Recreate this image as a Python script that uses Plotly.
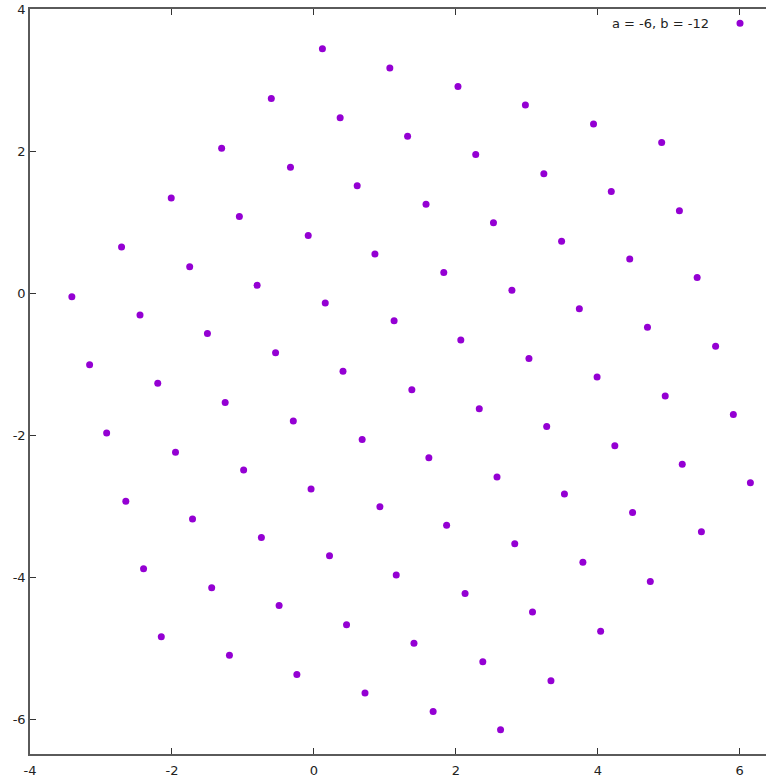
import plotly.graph_objects as go

# lattice points, column by column (top to bottom)
x_vals = [
    -3.41, -3.16, -2.92, -2.65, -2.40, -2.15,
    -2.71, -2.45, -2.20, -1.95, -1.71, -1.44, -1.19,
    -2.01, -1.75, -1.50, -1.25, -0.99, -0.74, -0.49, -0.24,
    -1.30, -1.05, -0.80, -0.54, -0.29, -0.04, 0.22, 0.46, 0.72,
    -0.60, -0.33, -0.08, 0.16, 0.41, 0.68, 0.93, 1.16, 1.41, 1.68,
    0.12, 0.37, 0.61, 0.86, 1.13, 1.38, 1.62, 1.87, 2.13, 2.38, 2.63,
    1.07, 1.32, 1.58, 1.83, 2.07, 2.33, 2.58, 2.83, 3.08, 3.34,
    2.03, 2.28, 2.53, 2.79, 3.03, 3.28, 3.53, 3.79, 4.04,
    2.98, 3.24, 3.49, 3.74, 3.99, 4.24, 4.49, 4.74,
    3.94, 4.19, 4.45, 4.70, 4.95, 5.19, 5.46,
    4.90, 5.15, 5.40, 5.66, 5.91, 6.15,
]
y_vals = [
    -0.05, -1.01, -1.97, -2.93, -3.88, -4.84,
    0.65, -0.31, -1.27, -2.24, -3.18, -4.15, -5.10,
    1.34, 0.37, -0.57, -1.54, -2.49, -3.44, -4.40, -5.37,
    2.04, 1.08, 0.11, -0.84, -1.80, -2.76, -3.70, -4.67, -5.63,
    2.74, 1.77, 0.81, -0.14, -1.10, -2.06, -3.01, -3.97, -4.93, -5.89,
    3.44, 2.47, 1.51, 0.55, -0.39, -1.36, -2.32, -3.27, -4.23, -5.19, -6.15,
    3.17, 2.21, 1.25, 0.29, -0.66, -1.63, -2.59, -3.53, -4.49, -5.46,
    2.91, 1.95, 0.99, 0.04, -0.92, -1.88, -2.83, -3.79, -4.76,
    2.65, 1.68, 0.73, -0.22, -1.18, -2.15, -3.09, -4.06,
    2.38, 1.43, 0.48, -0.48, -1.45, -2.41, -3.36,
    2.12, 1.16, 0.22, -0.75, -1.71, -2.67,
]
label = "a = -6, b = -12"
tick_vals = [-6, -4, -2, 0, 2, 4, 6]
tick_text = ["-6", "-4", "-2", "0", "2", "4", "6"]

purple = "#9400d3"
font = dict(family="DejaVu Sans", size=13, color="#222222")

fig = go.Figure()
fig.add_trace(go.Scatter(
    x=x_vals, y=y_vals, mode="markers", name=label,
    marker=dict(color=purple, size=7, line=dict(width=0)),
    showlegend=False,
))

# gnuplot-style key: text then sample symbol at top right
fig.add_annotation(
    text=label, xref="paper", yref="paper", x=0.925, y=0.981,
    xanchor="right", yanchor="middle", showarrow=False, font=font,
)
fig.add_shape(
    type="circle", xref="paper", yref="paper",
    x0=0.9647 - 0.0048, x1=0.9647 + 0.0048,
    y0=0.981 - 0.0047, y1=0.981 + 0.0047,
    fillcolor=purple, line=dict(width=0),
)

axis_common = dict(
    showgrid=False, zeroline=False, showline=True, automargin=False,
    linecolor="#5a5a5a", linewidth=1.5,
    ticks="inside", ticklen=6, tickcolor="#333333", tickwidth=1,
    tickfont=font, tickvals=tick_vals, ticktext=tick_text,
)
fig.update_xaxes(range=[-4, 6.37], mirror="allticks", ticklabelstandoff=4,
                 **axis_common)
fig.update_yaxes(range=[-6.49, 4], mirror=False, **axis_common)

fig.update_layout(
    width=766, height=778,
    margin=dict(l=30, r=0, t=9, b=24),
    plot_bgcolor="white", paper_bgcolor="white",
    font=font,
)

# drop the default page margin so the figure sits at the window origin
fig.write_html("out.html", config={"displayModeBar": False},
               post_script="document.body.style.margin='0';")
